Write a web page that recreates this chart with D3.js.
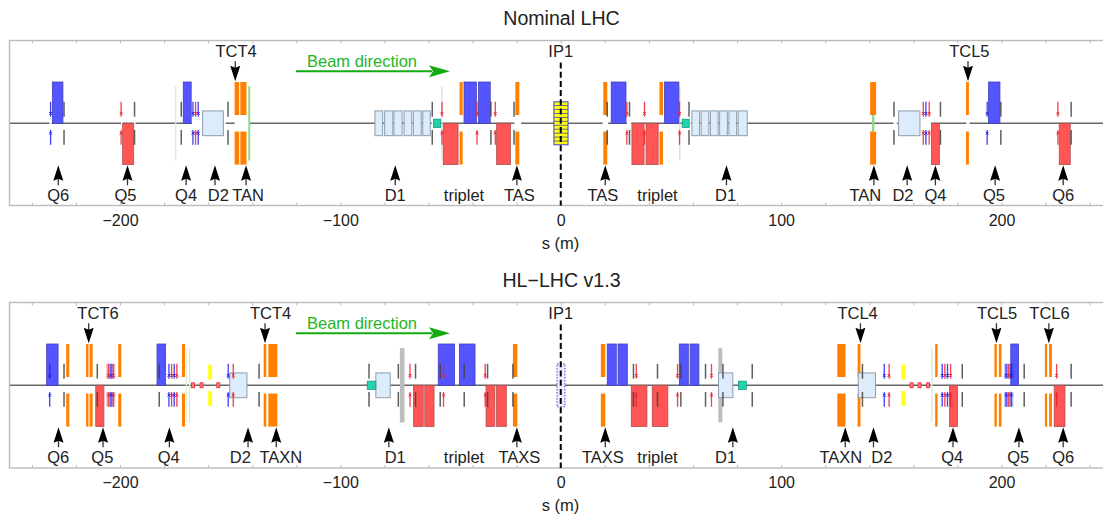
<!DOCTYPE html>
<html><head><meta charset="utf-8">
<style>html,body{margin:0;padding:0;background:#fff}svg{display:block}text{font-family:"Liberation Sans",sans-serif;fill:#222}</style>
<script src="https://cdn.jsdelivr.net/npm/d3@7"></script></head><body><div id="c"></div>
<script>
const tickLabels=[-200,-100,0,100,200];
const minorTicks=d3.range(-260,261,20);
// Panel 1: Nominal LHC (s ranges in metres)
const n_focusTop=[[-230.7,-225.9],[-171.3,-167.7],[-43.9,-38.3],[-37.3,-32],[22.9,29.6],[47.1,53.6],[194.1,199.3]];
const n_focusBot=[[-198.8,-193.8],[-53.3,-46.6],[-29.1,-22.8],[32.3,37.8],[38.7,44.2],[168.2,171.8],[226.2,231.2]];
const n_coll=[[-148,-145.9],[-145.4,-142.6],[-45.9,-44.5],[-20.6,-18.8],[19.3,21.1],[44.8,46.4],[140.4,143.1],[183.9,185.2]];
const n_dipole=[[-162.5,-153.1],[-84.3,-80.8],[-79.9,-76.2],[-75.7,-72],[-71.1,-67.6],[-66.9,-63.3],[-62.6,-59.2],[59.5,63],[63.7,67.2],[67.9,71.4],[72.1,75.6],[76.3,79.8],[80.5,84.6],[153.3,163]];
const n_teal=[[-57.8,-54.5],[55.1,58.3]];
const n_bpm=[-225.4,-193.4,-172.2,-151,-58.3,-31.7,-21.2,21.1,31.2,58.2,151.2,172.3,199.7,231.6];
const n_corrRed=[-199.5,-165.7,-53.9,-38,-29.7,30,38,53.9,164.5,167.2,225.6];
const n_corrBlue=[-231.5,-166.9,-164.5,165.7,193.5];
const n_paleGreen=[-174.7];
const n_paleGray=[-53.9,54];
const n_green=[[-141.8,-140.9]];
const n_greenBeam=[[141.2,142.3]];
const n_gaps=[[-232,-231],[-199.5,-198.8],[-193.8,-193],[-167.5,-162.5],[-153,-152],[-148,-141.5],[-58.5,-57.8],[-21,-18],[19,21.5],[30,32],[58.3,59],[151,152.5],[163,168],[184,185.5]];
const n_labels=["Q6","Q5","Q4","D2","TAN","D1","TAS","TAS","D1","TAN","D2","Q4","Q5","Q6"];
const n_arrowS=[-228,-196.6,-170,-156.9,-142.8,-75.1,-19.9,20.2,75.2,142.1,157.2,170,197.1,228];
const n_labelS=[-228,-197.5,-170,-155.4,-141.9,-75.1,-18.8,19.1,74.8,138.2,155.3,170,196.6,228];
const n_topLabels=["TCT4","TCL5"];
const n_topArrowS=[-147.7,184.8];
const n_topLabelS=[-147.3,185.4];
// Panel 2: HL-LHC v1.3
const h_focusTop=[[-233.3,-228.1],[-183.2,-179.3],[-55.6,-48.2],[-46,-38.9],[21.1,25.2],[26,30.2],[53.8,57.9],[58.7,62.7],[204.2,207.7]];
const h_focusBot=[[-211,-207.3],[-66.8,-62.4],[-61.7,-57.5],[-33.9,-29.9],[-29.1,-24.7],[32,39.1],[41.5,48.6],[176.4,180],[223.9,228.8]];
const h_coll=[[-224.4,-223],[-215.4,-214.3],[-213.8,-212.4],[-200.8,-199.4],[-171.9,-170.5],[-134.8,-133.6],[-132.7,-128.6],[-21.7,-19.7],[18.2,20.2],[125.5,129.2],[134.7,136],[169.9,171],[196.8,197.9],[198.8,200],[219.7,220.7],[221.6,222.9]];
const h_dipole=[[-150.2,-142.4],[-83.9,-77.4],[71.6,78.1],[135,142.8]];
const h_teal=[[-87.8,-83.9],[80.7,84.2]];
const h_bpm=[-225.4,-210.3,-182.2,-136.9,-87,-73.7,-65.9,-54.7,-43.8,-33.2,-21.7,33,43.9,54.5,65.7,73.6,86.9,136.9,182.2,210.3,231.6];
const h_corrRed=[-176.6,-174.2,-148.6,-68.4,-53.2,-34.3,34.3,53,68.4,149,174.3,176.9,225];
const h_corrBlue=[-231.9,-177.8,-175.4,-150.9,146.8,173.1,175.5];
const h_corrPaleRed=[-205.3,-203,203.3];
const h_corrPaleBlue=[-204.1,202.1,204.5];
const h_yellow=[[-160,-158.2],[154.6,156.4]];
const h_paleGreen=[-169.9,-168.4,168.4];
const h_thickGray=[[-73,-70.9],[71.5,73.3]];
const h_beamMarks=[-166.9,-163,-155.4,159.2,162.8,166.7];
const h_labels=["Q6","Q5","Q4","D2","TAXN","D1","TAXS","TAXS","D1","TAXN","D2","Q4","Q5","Q6"];
const h_arrowS=[-227.9,-207.7,-177.6,-141.9,-129.1,-78,-19.9,20.2,78.1,129.1,141.9,178,207.9,228];
const h_labelS=[-228,-208,-177.9,-145.4,-127,-75.1,-18.8,19.1,74.8,127.1,145.7,177.6,207.6,228];
const h_topLabels=["TCT6","TCT4","TCL4","TCL5","TCL6"];
const h_topArrowS=[-214.2,-134.2,136,197.7,221.5];
const h_topLabelS=[-210,-131.7,134.7,198,221.8];
const tripletS=[-43.9,43.9];

const W=1103,H=515;
const x=d3.scaleLinear().domain([-200,200]).range([120,1001.5]);
const y=d3.scaleLinear().domain([-1,1]).range([41.3,-41.3]);
const svg=d3.select("#c").append("svg").attr("width",W).attr("height",H);

function boxes(g,data,v0,v1,fill,stroke,sw,op){
  return g.selectAll(null).data(data).join("rect")
   .attr("x",d=>x(d[0])).attr("width",d=>x(d[1])-x(d[0]))
   .attr("y",y(v1)).attr("height",y(v0)-y(v1))
   .attr("fill",fill).attr("stroke",stroke||"none").attr("stroke-width",sw||0).attr("opacity",op==null?1:op);
}
function vlines(g,data,a,b,c,w,op){
  g.selectAll(null).data(data).join("line")
   .attr("x1",d=>x(d)).attr("x2",d=>x(d)).attr("y1",y(a)).attr("y2",y(b))
   .attr("stroke",c).attr("stroke-width",w).attr("opacity",op==null?1:op);
}
function correctors(g,data,c,wide){
  [[.16,.52],[-.52,-.16]].forEach(([a,b])=>{
    vlines(g,data,a,b,c,wide?4:1.3,wide?.3:.85);
    if(wide) vlines(g,data,a,b,c,1.2,.8);
    const yc=(a+b)/2>0?.24:-.24;
    const xm=d3.symbol().type(d3.symbolX).size(6);
    g.selectAll(null).data(data).join("path").attr("d",xm)
     .attr("transform",d=>`translate(${x(d)},${y(yc)})`)
     .attr("stroke",c).attr("stroke-width",1).attr("fill","none");
  });
}
function arrow(g,xp,y0,y1){ // tail y0, tip y1
  const dir=y1>y0?1:-1;
  g.append("line").attr("x1",xp).attr("x2",xp).attr("y1",y0).attr("y2",y1-dir*6).attr("stroke","#333").attr("stroke-width",1.3);
  g.append("path").attr("d",d3.line()([[xp,y1],[xp-5,y1-dir*15.5],[xp,y1-dir*13.5],[xp+5,y1-dir*15.5]])+"Z").attr("fill","#000");
}
function panel(cfg){
  const top=cfg.top,bot=cfg.bot,cy=cfg.cy;
  svg.append("text").attr("x",561.5).attr("y",cfg.titleY).attr("text-anchor","middle").style("font-size","19.6px").text(cfg.title);
  const axB=d3.axisBottom(x).tickValues(minorTicks).tickSize(-3).tickFormat(()=>"");
  const axT=d3.axisTop(x).tickValues(minorTicks).tickSize(-3).tickFormat(()=>"");
  const gb=svg.append("g").attr("transform",`translate(0,${bot})`).call(axB);
  const gt=svg.append("g").attr("transform",`translate(0,${top})`).call(axT);
  [gb,gt].forEach(a=>{a.select(".domain").remove();a.selectAll("line").attr("stroke","#aaa").attr("stroke-width",.8);});
  const axL=d3.axisBottom(x).tickValues(tickLabels).tickSize(0).tickPadding(9);
  const gl=svg.append("g").attr("transform",`translate(0,${bot})`).call(axL);
  gl.select(".domain").remove();
  gl.selectAll("text").style("font-size","16px").attr("fill","#222").style("font-family",'"Liberation Sans",sans-serif');
  svg.append("text").attr("x",560.5).attr("y",bot+43).attr("text-anchor","middle").style("font-size","16.5px").text("s (m)");
  svg.append("rect").attr("x",9.5).attr("y",top).attr("width",1110).attr("height",bot-top).attr("fill","none").attr("stroke","#bbb").attr("stroke-width",1.4);

  const g=svg.append("g").attr("transform",`translate(0,${cy})`);
  g.append("line").attr("x1",10).attr("x2",W).attr("y1",0).attr("y2",0).attr("stroke","#666").attr("stroke-width",1.6);
  if(cfg.gaps) boxes(g,cfg.gaps,-.04,.04,"#fff");
  if(cfg.paleGreen){vlines(g,cfg.paleGreen,-.9,.9,"#dcefd6",1.4);}
  if(cfg.paleGray){vlines(g,cfg.paleGray,-.9,.9,"#ddd",1.3);}
  if(cfg.thickGray) boxes(g,cfg.thickGray,-.9,.9,"#bdbdbd");
  cfg.draw(g);
  boxes(g,cfg.coll,.2,1,"#ff8000");boxes(g,cfg.coll,-1,-.2,"#ff8000");
  boxes(g,cfg.focusTop,0,1,"#5555ff","#4040b8",.8);
  boxes(g,cfg.focusBot,-1,0,"#ff5555","#b05050",.8);
  boxes(g,cfg.dipole,-.3,.3,"#dcecfb","#8e9cab",1);
  boxes(g,cfg.teal,-.1,.1,"#1fd3ab","#159a86",.8);
  correctors(g,cfg.corrRed,"#f0202e");
  correctors(g,cfg.corrBlue,"#2020f0");
  vlines(g,cfg.bpm,.16,.52,"#444",1.5,.85);vlines(g,cfg.bpm,-.52,-.16,"#444",1.5,.85);
  cfg.after(g);

  svg.append("line").attr("x1",x(0)).attr("x2",x(0)).attr("y1",top+22).attr("y2",bot).attr("stroke","#000").attr("stroke-width",2).attr("stroke-dasharray","6 3.2");
  svg.append("text").attr("x",x(0)).attr("y",top+16).attr("text-anchor","middle").style("font-size","16.5px").text("IP1");

  const a0=cy+62,a1=cy+42;
  cfg.labels.forEach((t,i)=>{
    arrow(svg,x(cfg.arrowS[i]),a0,a1);
    svg.append("text").attr("x",x(cfg.labelS[i])).attr("y",cy+78).attr("text-anchor","middle").style("font-size","16.5px").text(t);
  });
  tripletS.forEach(s=>svg.append("text").attr("x",x(s)).attr("y",cy+78).attr("text-anchor","middle").style("font-size","16.5px").text("triplet"));
  cfg.topLabels.forEach((t,i)=>{
    arrow(svg,x(cfg.topArrowS[i]),cy-62,cy-42);
    svg.append("text").attr("x",x(cfg.topLabelS[i])).attr("y",cy-66.5).attr("text-anchor","middle").style("font-size","16.5px").text(t);
  });
  const bx0=296,bx1=450,by=cy-52;
  svg.append("line").attr("x1",bx0).attr("x2",bx1-18).attr("y1",by).attr("y2",by).attr("stroke","#12ab12").attr("stroke-width",2);
  svg.append("path").attr("d",d3.line()([[bx1,by],[bx1-21,by-6],[bx1-17,by],[bx1-21,by+6]])+"Z").attr("fill","#12ab12");
  svg.append("text").attr("x",362).attr("y",by-4.5).attr("text-anchor","middle").style("font-size","16.5px").style("fill","#1fb51f").text("Beam direction");
}
panel({title:"Nominal LHC",titleY:24.5,top:40.5,bot:205.5,cy:123.3,
  focusTop:n_focusTop,focusBot:n_focusBot,coll:n_coll,dipole:n_dipole,teal:n_teal,bpm:n_bpm,corrRed:n_corrRed,corrBlue:n_corrBlue,
  paleGreen:n_paleGreen,paleGray:n_paleGray,gaps:n_gaps,labels:n_labels,arrowS:n_arrowS,labelS:n_labelS,topLabels:n_topLabels,topArrowS:n_topArrowS,topLabelS:n_topLabelS,
  draw(g){
    boxes(g,n_green,-.9,.9,"#8fd88a");
    boxes(g,n_greenBeam,-.2,.2,"#8fd88a");
  },
  after(g){
    boxes(g,[[-3.1,3.3]],-.52,.52,"#ffff10","#4040e0",1);
    const st=d3.range(-.43,.44,.0955);
    g.selectAll(null).data(st).join("line").attr("x1",x(-3.1)).attr("x2",x(3.3)).attr("y1",d=>y(d)).attr("y2",d=>y(d)).attr("stroke","#4a4a90").attr("stroke-width",.8);
  }
});
panel({title:"HL\u2212LHC v1.3",titleY:286.5,top:302.5,bot:468,cy:385.3,
  focusTop:h_focusTop,focusBot:h_focusBot,coll:h_coll,dipole:h_dipole,teal:h_teal,bpm:h_bpm,corrRed:h_corrRed,corrBlue:h_corrBlue,
  paleGreen:h_paleGreen,thickGray:h_thickGray,labels:h_labels,arrowS:h_arrowS,labelS:h_labelS,topLabels:h_topLabels,topArrowS:h_topArrowS,topLabelS:h_topLabelS,
  draw(g){
    boxes(g,h_yellow,.14,.5,"#ffff22");boxes(g,h_yellow,-.5,-.14,"#ffff22");
  },
  after(g){
    correctors(g,h_corrPaleRed,"#f0202e",true);
    correctors(g,h_corrPaleBlue,"#2020f0",true);
    boxes(g,[[-1.7,1.9]],-.52,.52,"#eeeeff","#4040d0",1).attr("stroke-dasharray","1.5 1.5");
    g.selectAll(null).data(h_beamMarks).join("rect").attr("x",d=>x(d)-1.5).attr("width",3).attr("y",-2.5).attr("height",5).attr("fill","#f58080").attr("stroke","#f0202e").attr("stroke-width",.8);
  }
});
</script></body></html>
